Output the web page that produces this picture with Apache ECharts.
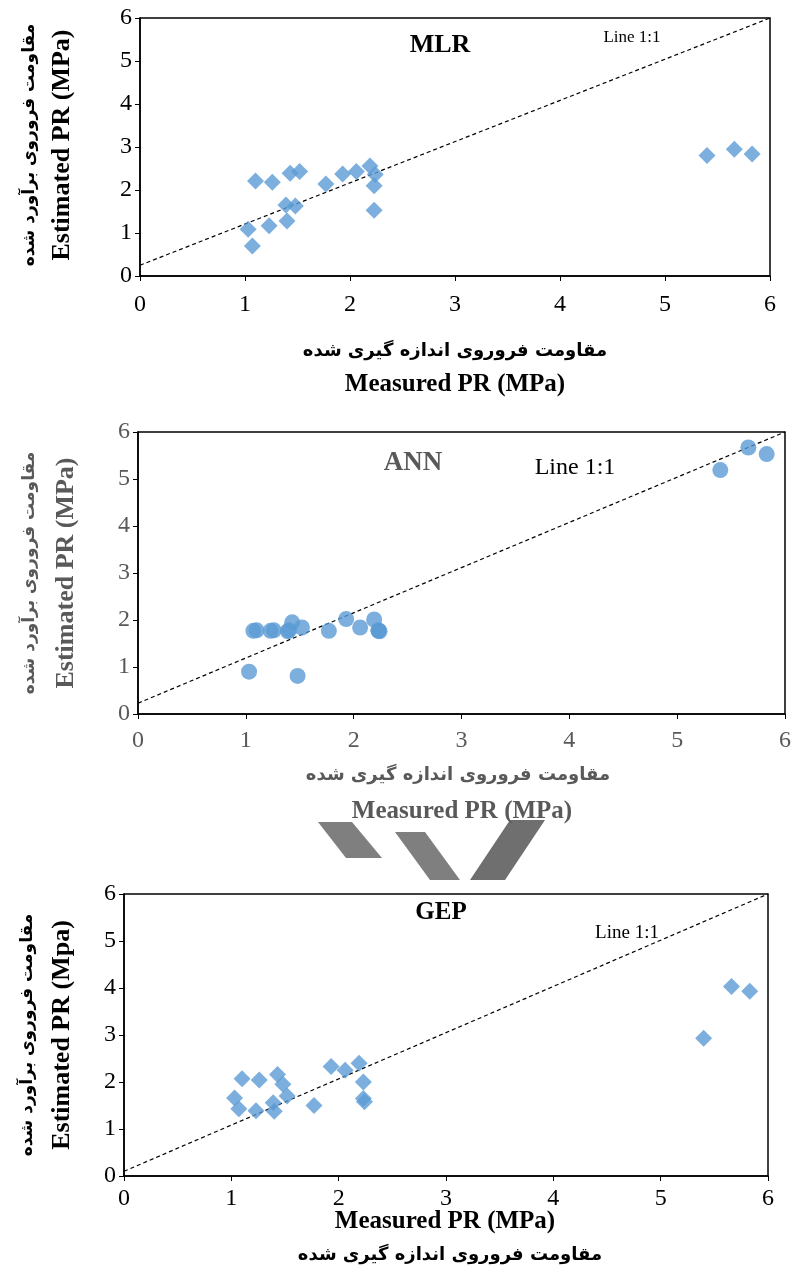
<!DOCTYPE html>
<html>
<head>
<meta charset="utf-8">
<script src="https://cdn.jsdelivr.net/npm/echarts@6/dist/echarts.min.js"></script>
<style>
  html, body { margin: 0; padding: 0; background: #fff; }
  #chart { width: 794px; height: 1272px; }
</style>
</head>
<body>
<div id="chart"></div>
<script>
  // measured PR (MPa), shared by the three models
  var measured = [1.03, 1.07, 1.10, 1.23, 1.26, 1.39, 1.40, 1.43, 1.48, 1.52, 1.77, 1.93, 2.06, 2.19, 2.23, 2.23, 2.24, 5.40, 5.66, 5.83];
  // estimated PR of each model
  var mlrEst = [1.09, 0.70, 2.21, 1.17, 2.18, 1.65, 1.28, 2.39, 1.63, 2.43, 2.14, 2.37, 2.43, 2.56, 2.10, 1.53, 2.36, 2.80, 2.95, 2.84];
  var annEst = [0.90, 1.77, 1.78, 1.77, 1.78, 1.76, 1.78, 1.95, 0.81, 1.84, 1.77, 2.02, 1.84, 2.01, 1.77, 1.78, 1.76, 5.19, 5.67, 5.53];
  var gepEst = [1.66, 1.43, 2.07, 1.39, 2.04, 1.56, 1.38, 2.16, 1.95, 1.70, 1.50, 2.33, 2.25, 2.40, 2.00, 1.65, 1.58, 2.93, 4.03, 3.93];
  // dashed "Line 1:1" end points
  var lineMLR = [[0, 0.25], [6, 6]];
  var lineANN = [[0, 0.23], [6, 6]];
  var lineGEP = [[0, 0.10], [6, 6]];

  var faTitleX = 'مقاومت فروروی اندازه گیری شده';
  var faTitleY = 'مقاومت فروروی برآورد شده';

  function pairs(xs, ys) {
    return xs.map(function (x, i) { return [x, ys[i]]; });
  }

  var serif = '"Liberation Serif", "DejaVu Serif", serif';
  var fa = '"DejaVu Sans", sans-serif';
  var gray = '#595959';

  function xAx(idx, color, margin) {
    return {
      gridIndex: idx, type: 'value', min: 0, max: 6, interval: 1,
      axisLine: { show: true, lineStyle: { color: '#000', width: 1.5 } },
      axisTick: { show: true, length: 5, lineStyle: { color: '#000' } },
      axisLabel: { color: color, fontFamily: serif, fontSize: 24, margin: margin },
      splitLine: { show: false }
    };
  }
  function yAx(idx, color) {
    return {
      gridIndex: idx, type: 'value', min: 0, max: 6, interval: 1,
      axisLine: { show: true, lineStyle: { color: '#000', width: 1.5 } },
      axisTick: { show: true, length: 5, lineStyle: { color: '#000' } },
      axisLabel: { color: color, fontFamily: serif, fontSize: 24, margin: 8 },
      splitLine: { show: false }
    };
  }
  function txt(x, y, text, size, color, weight, family, rot) {
    return {
      type: 'text', x: x, y: y, rotation: rot || 0,
      style: {
        text: text, fill: color, fontSize: size, fontWeight: weight,
        fontFamily: family, align: 'center', verticalAlign: 'middle'
      }
    };
  }

  var myChart = echarts.init(document.getElementById('chart'));
  var option = {
    backgroundColor: '#fff',
    animation: false,
    grid: [
      { left: 140, right: 24, top: 18, height: 258, show: true, borderColor: '#000', borderWidth: 1.5 },
      { left: 138, right: 7, top: 432, height: 282, show: true, borderColor: '#000', borderWidth: 1.5 },
      { left: 124, right: 26, top: 894, height: 282, show: true, borderColor: '#000', borderWidth: 1.5 }
    ],
    xAxis: [xAx(0, '#000', 17), xAx(1, gray, 15), xAx(2, '#000', 11)],
    yAxis: [yAx(0, '#000'), yAx(1, gray), yAx(2, '#000')],
    series: [
      { type: 'line', xAxisIndex: 0, yAxisIndex: 0, data: lineMLR, symbol: 'none',
        lineStyle: { color: '#000', width: 1.2, type: [4, 3] }, z: 1 },
      { type: 'scatter', xAxisIndex: 0, yAxisIndex: 0, data: pairs(measured, mlrEst),
        symbol: 'diamond', symbolSize: 17, itemStyle: { color: '#5B9BD5' }, z: 2 },
      { type: 'line', xAxisIndex: 1, yAxisIndex: 1, data: lineANN, symbol: 'none',
        lineStyle: { color: '#000', width: 1.2, type: [4, 3] }, z: 1 },
      { type: 'scatter', xAxisIndex: 1, yAxisIndex: 1, data: pairs(measured, annEst),
        symbol: 'circle', symbolSize: 16, itemStyle: { color: '#5B9BD5' }, z: 2 },
      { type: 'line', xAxisIndex: 2, yAxisIndex: 2, data: lineGEP, symbol: 'none',
        lineStyle: { color: '#000', width: 1.2, type: [4, 3] }, z: 1 },
      { type: 'scatter', xAxisIndex: 2, yAxisIndex: 2, data: pairs(measured, gepEst),
        symbol: 'diamond', symbolSize: 17, itemStyle: { color: '#5B9BD5' }, z: 2 }
    ],
    graphic: [
      // panel 1 - MLR
      txt(440, 45, 'MLR', 26, '#000', 'bold', serif),
      txt(632, 38, 'Line 1:1', 17, '#000', 'normal', serif),
      txt(455, 351, faTitleX, 18, '#000', 'bold', fa),
      txt(455, 385, 'Measured PR (MPa)', 25, '#000', 'bold', serif),
      txt(30, 145, faTitleY, 17, '#000', 'bold', fa, Math.PI / 2),
      txt(62, 145, 'Estimated PR (MPa)', 26, '#000', 'bold', serif, Math.PI / 2),
      // panel 2 - ANN
      txt(413, 463, 'ANN', 27, gray, 'bold', serif),
      txt(575, 468, 'Line 1:1', 24, '#000', 'normal', serif),
      txt(458, 775, faTitleX, 18, gray, 'bold', fa),
      txt(462, 812, 'Measured PR (MPa)', 25, gray, 'bold', serif),
      txt(30, 573, faTitleY, 17, gray, 'bold', fa, Math.PI / 2),
      txt(66, 573, 'Estimated PR (MPa)', 26, gray, 'bold', serif, Math.PI / 2),
      // panel 3 - GEP
      txt(441, 913, 'GEP', 25, '#000', 'bold', serif),
      txt(627, 933, 'Line 1:1', 19, '#000', 'normal', serif),
      txt(445, 1222, 'Measured PR (MPa)', 25, '#000', 'bold', serif),
      txt(450, 1255, faTitleX, 18, '#000', 'bold', fa),
      txt(28, 1035, faTitleY, 17, '#000', 'bold', fa, Math.PI / 2),
      txt(62, 1035, 'Estimated PR (Mpa)', 26, '#000', 'bold', serif, Math.PI / 2),
      // watermark shapes
      { type: 'polygon', shape: { points: [[318, 822], [352, 822], [382, 858], [346, 858]] },
        style: { fill: '#7f7f7f' }, z: -1 },
      { type: 'polygon', shape: { points: [[395, 832], [425, 832], [460, 880], [430, 880]] },
        style: { fill: '#7f7f7f' }, z: -1 },
      { type: 'polygon', shape: { points: [[510, 820], [545, 820], [505, 880], [470, 880]] },
        style: { fill: '#6f6f6f' }, z: -1 }
    ]
  };
  myChart.setOption(option);
</script>
</body>
</html>
